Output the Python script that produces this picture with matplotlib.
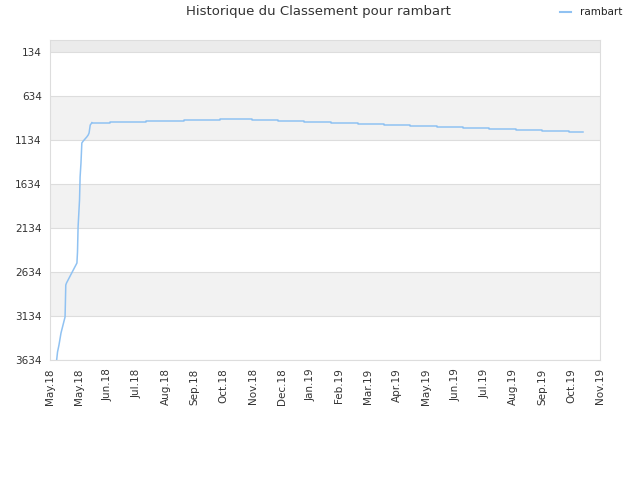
import matplotlib
matplotlib.use('Agg')
from matplotlib import pyplot as plt

# data (x in tick units, rank)
x_pos = [0.23, 0.26, 0.31, 0.38, 0.45, 0.52, 0.53, 0.545, 0.57, 0.93, 0.95, 0.97,
         1.02, 1.04, 1.07, 1.10, 1.15, 1.27, 1.32, 1.35, 1.39, 1.45, 2.08, 3.33,
         4.63, 5.88, 6.97, 7.89, 8.77, 9.72, 10.63, 11.53, 12.43, 13.38, 14.28,
         15.18, 16.11, 17.01, 17.92, 18.40]
rank = [3634, 3543, 3464, 3327, 3236, 3145, 3009, 2782, 2759, 2532, 2407, 2123,
        1816, 1554, 1395, 1168, 1145, 1100, 1077, 1054, 964, 937, 926, 918,
        907, 895, 907, 915, 926, 937, 949, 960, 971, 983, 994,
        1006, 1017, 1028, 1040, 1040]
tick_labels = ['May.18', 'May.18', 'Jun.18', 'Jul.18', 'Aug.18', 'Sep.18', 'Oct.18',
               'Nov.18', 'Dec.18', 'Jan.19', 'Feb.19', 'Mar.19', 'Apr.19', 'May.19',
               'Jun.19', 'Jul.19', 'Aug.19', 'Sep.19', 'Oct.19', 'Nov.19']
y_ticks = [134, 634, 1134, 1634, 2134, 2634, 3134, 3634]

line_color = '#90c2f2'
split = 21  # from here on the ranking moves in monthly steps

fig = plt.figure(figsize=(6.4, 4.8), dpi=100)
ax = fig.add_axes([50 / 640, 120 / 480, 550 / 640, 320 / 480])

y_top = -2
ax.axhspan(y_top, 134, color='#ebebeb', zorder=0, lw=0)
for lo in (634, 1634, 2634):
    ax.axhspan(lo, lo + 500, color='#f2f2f2', zorder=0, lw=0)

ax.plot(x_pos[:split + 1], rank[:split + 1], color=line_color, lw=1.1, zorder=3)
ax.plot(x_pos[split:], rank[split:], color=line_color, lw=1.1,
        drawstyle='steps-post', zorder=3)

ax.set_xlim(0, len(tick_labels) - 1)
ax.set_ylim(3634, y_top)
ax.set_yticks(y_ticks)
ax.set_yticklabels([str(v) for v in y_ticks])
ax.set_xticks(range(len(tick_labels)))
ax.set_xticklabels(tick_labels, rotation=90)
ax.grid(axis='y', color='#dddddd', lw=0.8, zorder=1)
ax.tick_params(length=0, labelsize=7.5, colors='#333333', pad=6)
for s in ax.spines.values():
    s.set_color('#dddddd')

fig.text(0.497, 0.975, 'Historique du Classement pour rambart', ha='center', va='center',
         fontsize=9.5, color='#333333')
fig.lines.append(plt.Line2D([560 / 640, 571 / 640], [0.974, 0.974], color=line_color, lw=1.5,
                            transform=fig.transFigure))
fig.text(580 / 640, 0.975, 'rambart', ha='left', va='center', fontsize=7.5, color='#222222')

fig.savefig('out.png', dpi=100)
